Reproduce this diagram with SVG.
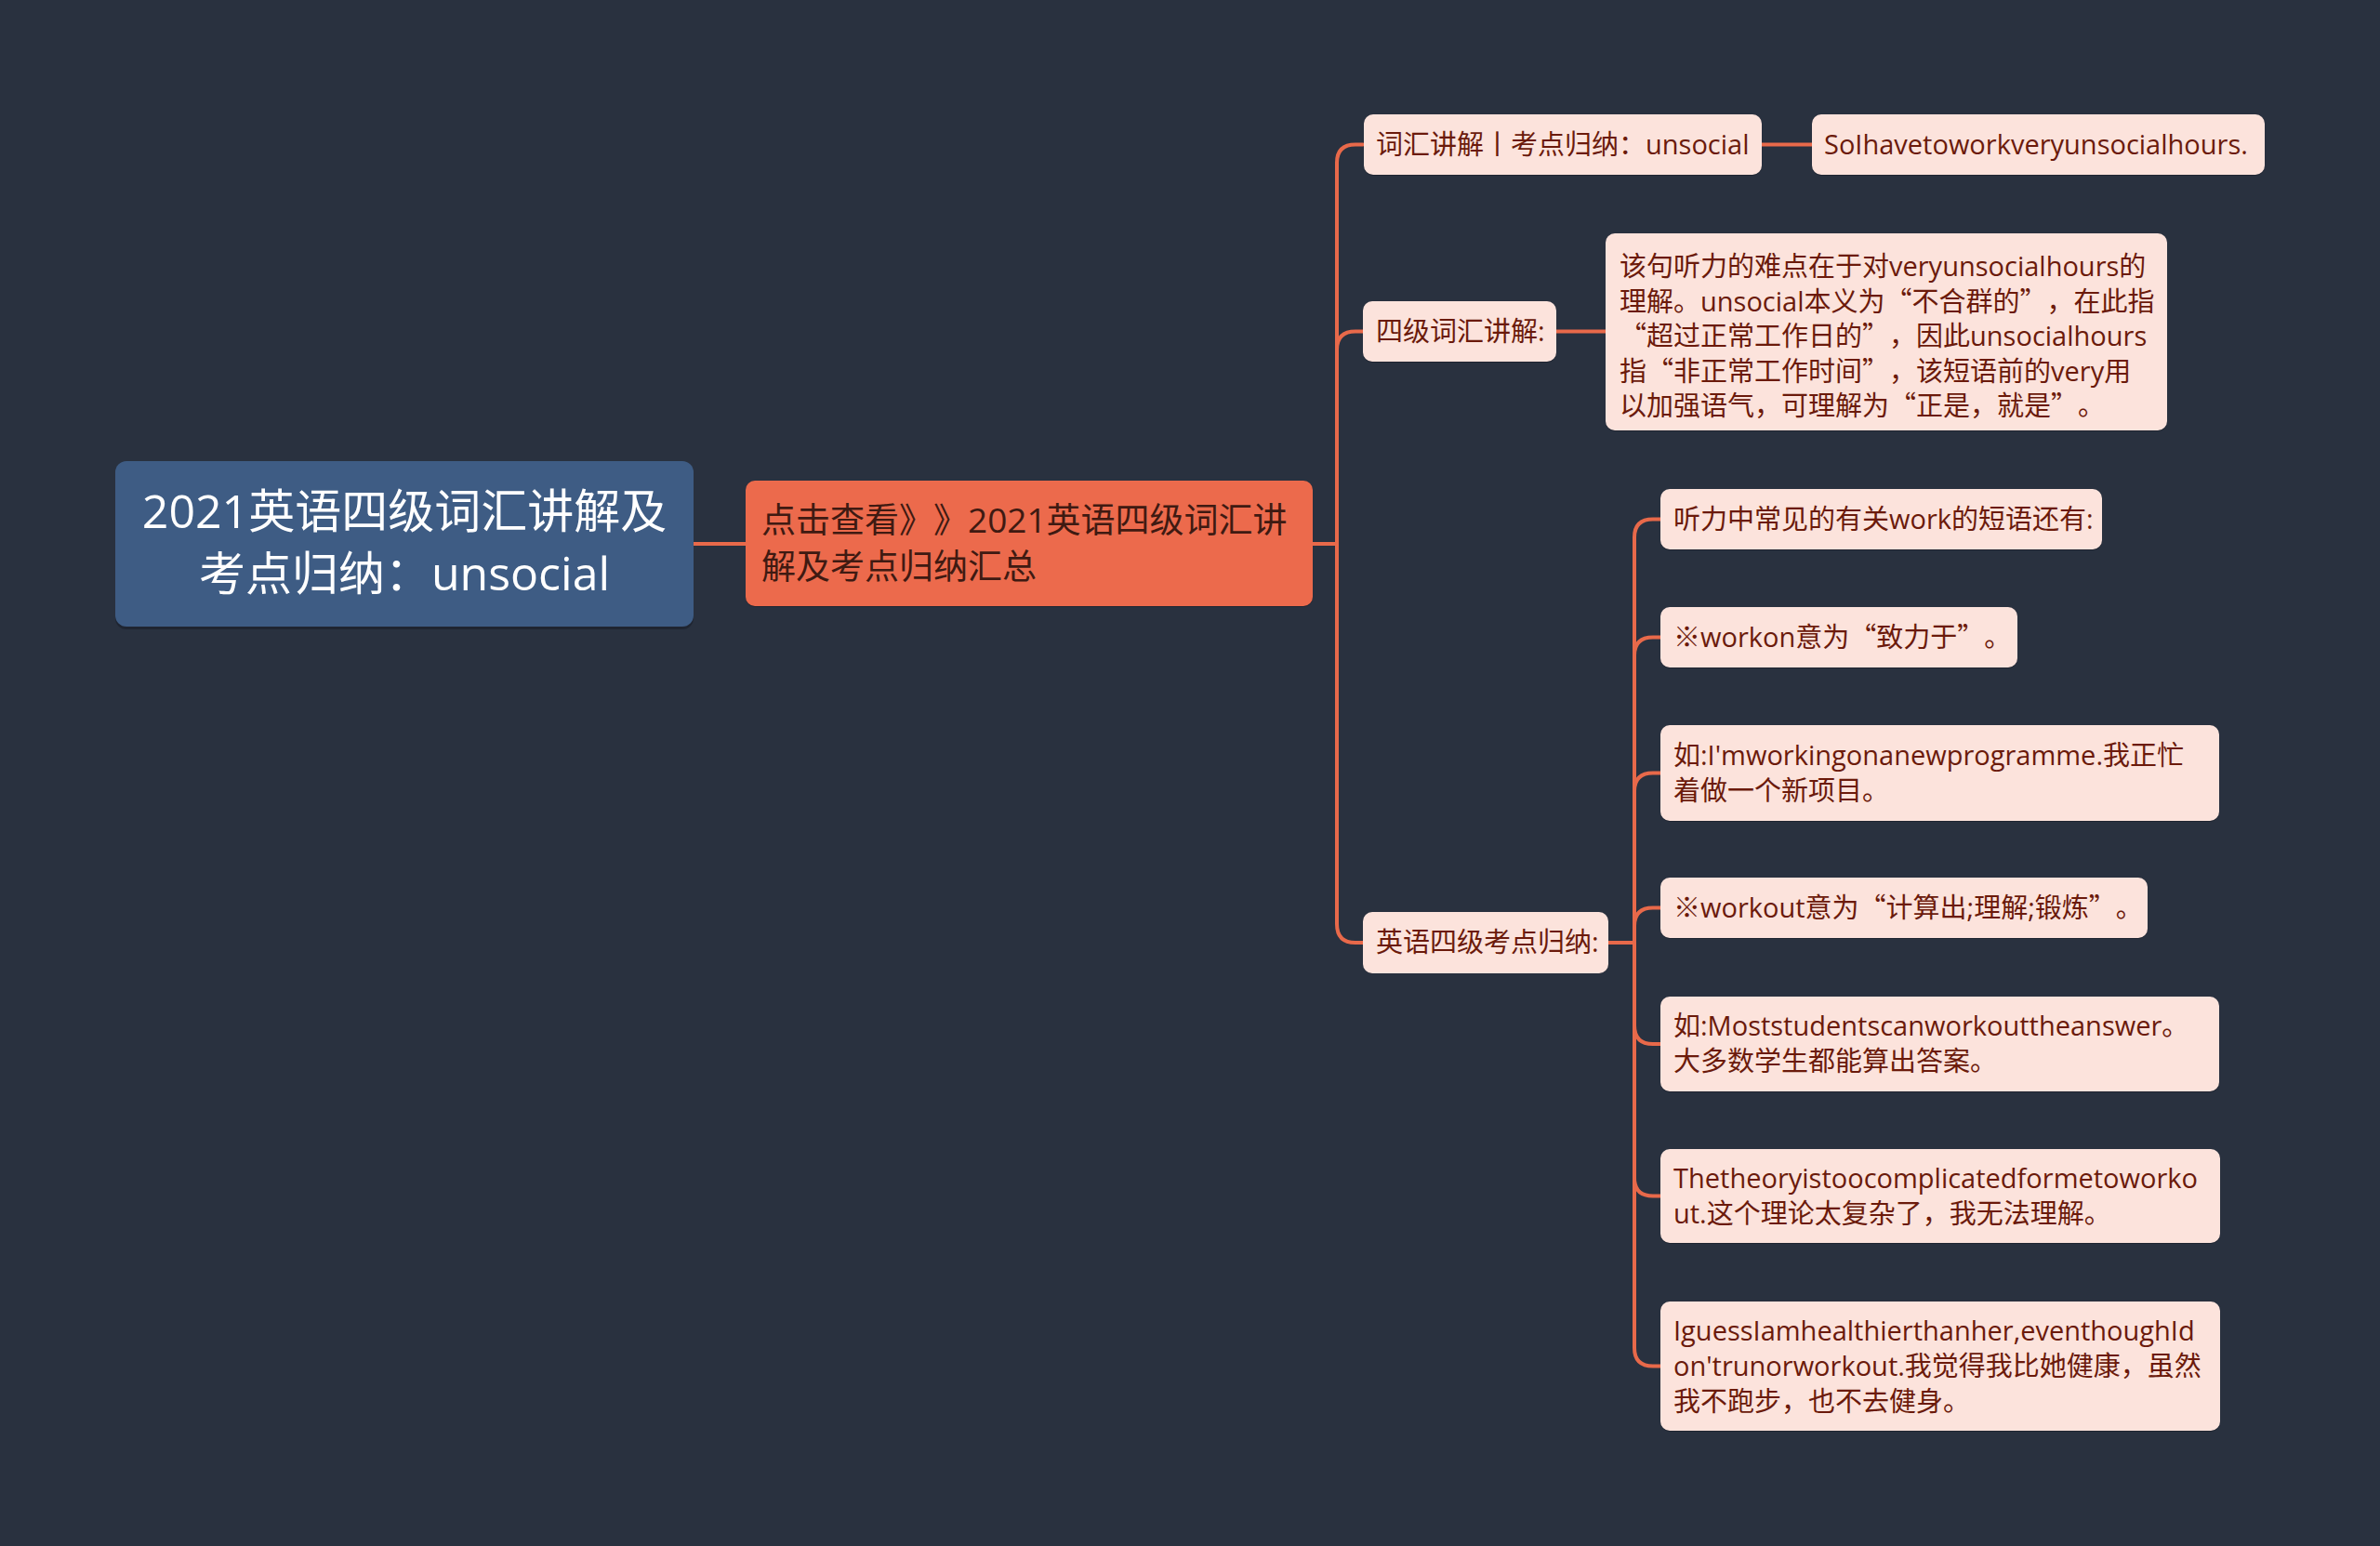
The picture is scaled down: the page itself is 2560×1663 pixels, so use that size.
<svg xmlns="http://www.w3.org/2000/svg" width="2560" height="1663" viewBox="0 0 2560 1663">
<defs>
<style>
.bg{fill:#29313F}
.conn{fill:none;stroke:#E8694A;stroke-width:4;stroke-linecap:round;stroke-linejoin:round}
.shadow{fill:#1B212C;opacity:0.7}
.root{fill:#3E5C84}
.main{fill:#EC6A4C}
.leaf{fill:#FCE3DC}
.t{font-family:"Open Sans","Noto Sans CJK SC",sans-serif;text-spacing-trim:space-all}
.q{font-family:"Noto Sans CJK SC",sans-serif;font-feature-settings:"fwid" 1}
.troot{font-size:50px;fill:#FFFFFF;text-anchor:middle}
.tmain{font-size:37px;fill:#3F1A12}
.tleaf{font-size:29px;fill:#6B1A0B}
</style>
</defs>
<rect class="bg" x="0" y="0" width="2560" height="1663"/>

<g id="connectors">
<path class="conn" d="M746 585 H802"/>
<path class="conn" d="M1412 585 H1438 V175 Q1438 155.5 1458 155.5 H1466"/>
<path class="conn" d="M1438 585 V376 Q1438 356.5 1458 356.5 H1466"/>
<path class="conn" d="M1438 585 V994 Q1438 1014 1458 1014 H1466"/>
<path class="conn" d="M1895 155.5 H1949"/>
<path class="conn" d="M1674 356.5 H1727"/>
<path class="conn" d="M1730 1014 H1758"/>
<path class="conn" d="M1758 1014 V578 Q1758 558.5 1778 558.5 H1786"/>
<path class="conn" d="M1758 1014 V705 Q1758 685.5 1778 685.5 H1786"/>
<path class="conn" d="M1758 1014 V851 Q1758 831.5 1778 831.5 H1786"/>
<path class="conn" d="M1758 1014 V996 Q1758 976.5 1778 976.5 H1786"/>
<path class="conn" d="M1758 1014 V1103 Q1758 1123 1778 1123 H1786"/>
<path class="conn" d="M1758 1014 V1267 Q1758 1286.5 1778 1286.5 H1786"/>
<path class="conn" d="M1758 1014 V1450 Q1758 1469.5 1778 1469.5 H1786"/>
</g>

<g id="node-root">
<rect class="shadow" x="124" y="499" width="622" height="178" rx="12"/>
<rect class="root" x="124" y="496" width="622" height="178" rx="12"/>
<text class="t troot"><tspan x="435" y="568">2021英语四级词汇讲解及</tspan><tspan x="435" y="635">考点归纳：unsocial</tspan></text>
</g>

<g id="node-main">
<rect class="shadow" x="802" y="520" width="610" height="133" rx="10"/>
<rect class="main" x="802" y="517" width="610" height="135" rx="10"/>
<text class="t tmain"><tspan x="819" y="573">点击查看<tspan class="q">》》</tspan>2021英语四级词汇讲</tspan><tspan x="819" y="623">解及考点归纳汇总</tspan></text>
</g>

<g id="node-vocab">
<rect class="shadow" x="1467" y="126" width="428" height="63" rx="10"/>
<rect class="leaf" x="1467" y="123" width="428" height="65" rx="10"/>
<text class="t tleaf" x="1480" y="166">词汇讲解丨考点归纳：unsocial</text>
</g>

<g id="node-example">
<rect class="shadow" x="1949" y="126" width="487" height="63" rx="10"/>
<rect class="leaf" x="1949" y="123" width="487" height="65" rx="10"/>
<text class="t tleaf" x="1962" y="166">SoIhavetoworkveryunsocialhours.</text>
</g>

<g id="node-cet4">
<rect class="shadow" x="1466" y="327" width="208" height="63" rx="10"/>
<rect class="leaf" x="1466" y="324" width="208" height="65" rx="10"/>
<text class="t tleaf" x="1480" y="367">四级词汇讲解:</text>
</g>

<g id="node-explain">
<rect class="shadow" x="1727" y="254" width="604" height="210" rx="10"/>
<rect class="leaf" x="1727" y="251" width="604" height="212" rx="10"/>
<text class="t tleaf"><tspan x="1742" y="297">该句听力的难点在于对veryunsocialhours的</tspan><tspan x="1742" y="334.5">理解。unsocial本义为<tspan class="q">“</tspan>不合群的<tspan class="q">”</tspan>，在此指</tspan><tspan x="1742" y="372"><tspan class="q">“</tspan>超过正常工作日的<tspan class="q">”</tspan>，因此unsocialhours</tspan><tspan x="1742" y="409.5">指<tspan class="q">“</tspan>非正常工作时间<tspan class="q">”</tspan>，该短语前的very用</tspan><tspan x="1742" y="447">以加强语气，可理解为<tspan class="q">“</tspan>正是，就是<tspan class="q">”</tspan>。</tspan></text>
</g>

<g id="node-points">
<rect class="shadow" x="1466" y="984" width="264" height="63" rx="10"/>
<rect class="leaf" x="1466" y="981" width="264" height="66" rx="10"/>
<text class="t tleaf" x="1480" y="1024">英语四级考点归纳:</text>
</g>

<g id="node-c1">
<rect class="shadow" x="1786" y="529" width="475" height="63" rx="10"/>
<rect class="leaf" x="1786" y="526" width="475" height="65" rx="10"/>
<text class="t tleaf" x="1800" y="569">听力中常见的有关work的短语还有:</text>
</g>

<g id="node-c2">
<rect class="shadow" x="1786" y="656" width="384" height="63" rx="10"/>
<rect class="leaf" x="1786" y="653" width="384" height="65" rx="10"/>
<text class="t tleaf" x="1800" y="696">※workon意为<tspan class="q">“</tspan>致力于<tspan class="q">”</tspan>。</text>
</g>

<g id="node-c3">
<rect class="shadow" x="1786" y="783" width="601" height="101" rx="10"/>
<rect class="leaf" x="1786" y="780" width="601" height="103" rx="10"/>
<text class="t tleaf"><tspan x="1800" y="823">如:I'mworkingonanewprogramme.我正忙</tspan><tspan x="1800" y="861">着做一个新项目。</tspan></text>
</g>

<g id="node-c4">
<rect class="shadow" x="1786" y="947" width="524" height="63" rx="10"/>
<rect class="leaf" x="1786" y="944" width="524" height="65" rx="10"/>
<text class="t tleaf" x="1800" y="987">※workout意为<tspan class="q">“</tspan>计算出;理解;锻炼<tspan class="q">”</tspan>。</text>
</g>

<g id="node-c5">
<rect class="shadow" x="1786" y="1075" width="601" height="100" rx="10"/>
<rect class="leaf" x="1786" y="1072" width="601" height="102" rx="10"/>
<text class="t tleaf"><tspan x="1800" y="1114">如:Moststudentscanworkouttheanswer。</tspan><tspan x="1800" y="1152">大多数学生都能算出答案。</tspan></text>
</g>

<g id="node-c6">
<rect class="shadow" x="1786" y="1239" width="602" height="99" rx="10"/>
<rect class="leaf" x="1786" y="1236" width="602" height="101" rx="10"/>
<text class="t tleaf"><tspan x="1800" y="1278">Thetheoryistoocomplicatedformetoworko</tspan><tspan x="1800" y="1316">ut.这个理论太复杂了，我无法理解。</tspan></text>
</g>

<g id="node-c7">
<rect class="shadow" x="1786" y="1403" width="602" height="137" rx="10"/>
<rect class="leaf" x="1786" y="1400" width="602" height="139" rx="10"/>
<text class="t tleaf"><tspan x="1800" y="1442">IguessIamhealthierthanher,eventhoughId</tspan><tspan x="1800" y="1480">on'trunorworkout.我觉得我比她健康，虽然</tspan><tspan x="1800" y="1518">我不跑步，也不去健身。</tspan></text>
</g>
</svg>
